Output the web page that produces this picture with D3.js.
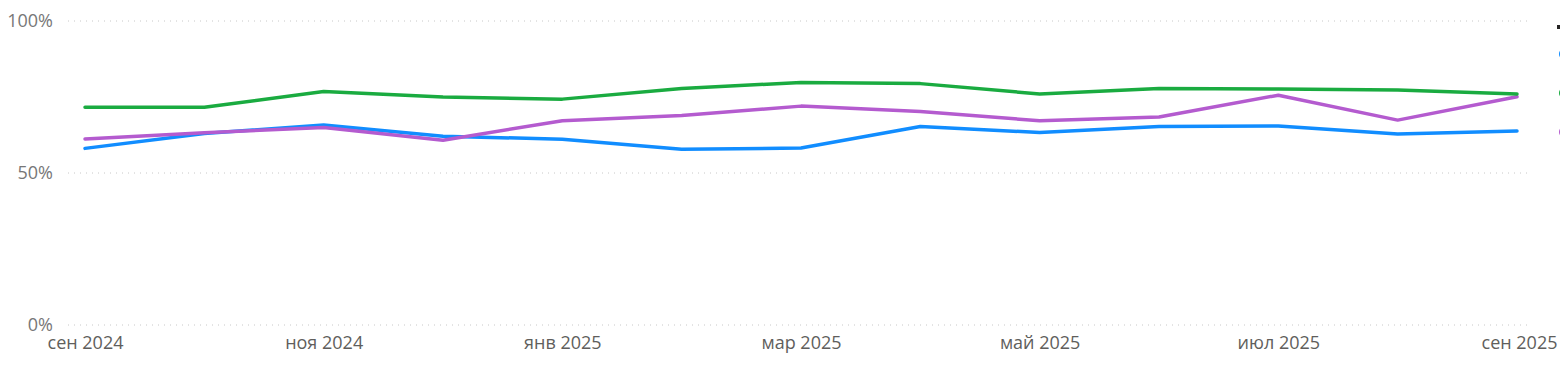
<!DOCTYPE html>
<html>
<head>
<meta charset="utf-8">
<script src="https://cdn.jsdelivr.net/npm/d3@7"></script>
<style>
  body { margin: 0; background: #fff; }
  text { font-family: "Segoe UI", "Open Sans", sans-serif; }
</style>
</head>
<body>
<div id="chart-area"></div>
<script>
// months shown on the x axis (one point per month)
var months = ["сен 2024", "окт 2024", "ноя 2024", "дек 2024", "янв 2025", "фев 2025",
              "мар 2025", "апр 2025", "май 2025", "июн 2025", "июл 2025", "авг 2025", "сен 2025"];
var yTicks = [0, 50, 100];

// series, in %
var greenValues  = [71.6, 71.6, 76.8, 75.0, 74.3, 77.8, 79.8, 79.4, 76.0, 77.8, 77.6, 77.3, 76.0];
var purpleValues = [61.2, 63.2, 65.0, 60.8, 67.2, 68.9, 72.0, 70.2, 67.2, 68.4, 75.6, 67.4, 75.1];
var blueValues   = [58.1, 63.0, 65.8, 62.1, 61.1, 57.8, 58.2, 65.3, 63.3, 65.3, 65.5, 62.8, 63.8];

var series = [
  { name: "blue",   values: blueValues,   color: "#118DFF" },
  { name: "purple", values: purpleValues, color: "#B45BCF" },
  { name: "green",  values: greenValues,  color: "#1AAB40" }
];

var width = 1560, height = 365;
var svg = d3.select("#chart-area").append("svg")
    .attr("width", width)
    .attr("height", height);

var x = d3.scalePoint()
    .domain(months)
    .range([85, 1517]);

var y = d3.scaleLinear()
    .domain([0, 100])
    .range([325, 21]);

// gridlines
svg.append("g")
    .selectAll("line")
    .data(yTicks)
    .enter().append("line")
    .attr("x1", 68)
    .attr("x2", 1532)
    .attr("y1", d => y(d))
    .attr("y2", d => y(d))
    .attr("stroke", "#c8c8c8")
    .attr("stroke-width", 1)
    .attr("stroke-dasharray", "1,5");

// y axis labels
var yAxisCall = d3.axisLeft(y)
    .tickValues(yTicks)
    .tickSize(0)
    .tickFormat(d => d + "%");
var yAxis = svg.append("g")
    .attr("transform", "translate(60,0)")
    .call(yAxisCall);
yAxis.select(".domain").remove();
yAxis.selectAll("text")
    .attr("x", -7)
    .attr("fill", "#777")
    .style("font-size", "18px");

// x axis labels (every other month)
var xAxisCall = d3.axisBottom(x)
    .tickValues(months.filter((d, i) => i % 2 === 0))
    .tickSize(0);
var xAxis = svg.append("g")
    .attr("transform", "translate(0,333)")
    .call(xAxisCall);
xAxis.select(".domain").remove();
xAxis.selectAll("text")
    .attr("fill", "#605e5c")
    .attr("dy", "0.71em")
    .style("font-size", "18px");
xAxis.selectAll("text")
    .filter(d => d === months[months.length - 1])
    .attr("text-anchor", "end")
    .attr("x", 40);

// lines
var line = d3.line()
    .x((d, i) => x(months[i]))
    .y(d => y(d));

svg.selectAll(".series")
    .data(series)
    .enter().append("path")
    .attr("class", "series")
    .attr("d", d => line(d.values))
    .attr("fill", "none")
    .attr("stroke", d => d.color)
    .attr("stroke-width", 3.5)
    .attr("stroke-linejoin", "round")
    .attr("stroke-linecap", "round");

// legend (cut off by the right edge)
svg.append("rect")
    .attr("x", 1557)
    .attr("y", 25)
    .attr("width", 4)
    .attr("height", 4)
    .attr("fill", "#252423");

var legendItems = [series[0], series[2], series[1]];
svg.selectAll(".legend-dot")
    .data(legendItems)
    .enter().append("circle")
    .attr("class", "legend-dot")
    .attr("cx", 1565)
    .attr("cy", (d, i) => 54 + i * 39)
    .attr("r", 6)
    .attr("fill", d => d.color);
</script>
</body>
</html>
